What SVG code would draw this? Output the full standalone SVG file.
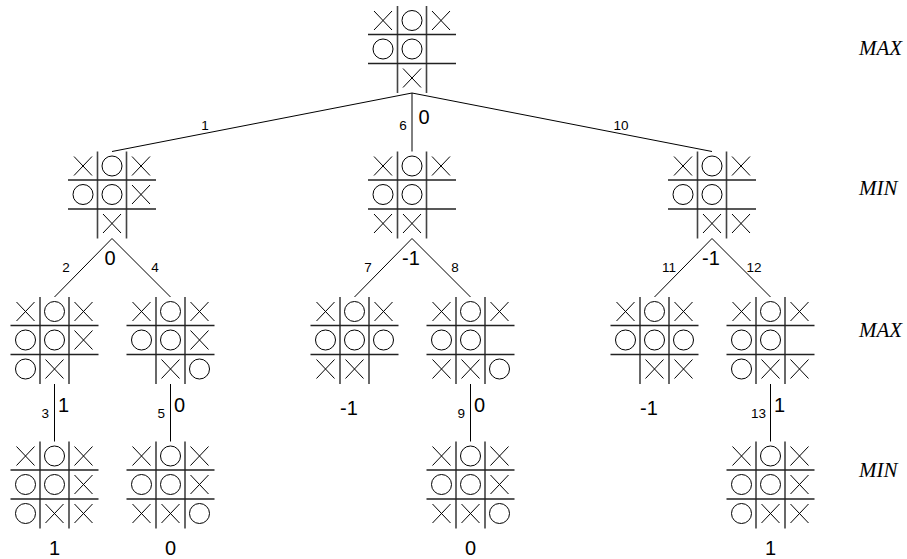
<svg xmlns="http://www.w3.org/2000/svg" xmlns:xlink="http://www.w3.org/1999/xlink" width="907" height="559" viewBox="0 0 907 559">
<style>
.gv{stroke:#444;stroke-width:1.6;fill:none}
.gh{stroke:#222;stroke-width:1.4;fill:none}
.m{stroke:#000;stroke-width:1;fill:none}
.e{stroke:#000;stroke-width:1;fill:none}
.lbl{font-family:"Liberation Sans",Arial,sans-serif;font-size:13.5px;fill:#000}
.val{font-family:"Liberation Sans",Arial,sans-serif;font-size:20px;fill:#000}
.lev{font-family:"Liberation Serif","Times New Roman",serif;font-style:italic;font-size:21px;fill:#000}
</style>
<defs>
<g id="grid">
<path class="gv" d="M-14.5,0V87M14.5,0V87"/>
<path class="gh" d="M-44,28.5H44M-44,57.5H44"/>
</g>
<path id="x" class="m" d="M-9,-9.5L9,9.5M9,-9.5L-9,9.5"/>
<circle id="o" class="m" r="10"/>
</defs>
<rect width="907" height="559" fill="#fff"/>
<g id="connectors">
<path class="e" d="M412,93L112,151.5M412,93L412,151.5M412,93L712,151.5"/>
<path class="e" d="M112,238.5L54.5,297M112,238.5L170.5,297M412,238.5L354.5,297M412,238.5L470.5,297M712,238.5L654.5,297M712,238.5L770.5,297"/>
<path class="e" d="M54.5,384V441.5M170.5,384V441.5M470.5,384V441.5M770.5,384V441.5"/>
<text class="lbl" x="205" y="129.5" text-anchor="middle">1</text>
<text class="lbl" x="403" y="130" text-anchor="middle">6</text>
<text class="val" x="424" y="124" text-anchor="middle">0</text>
<text class="lbl" x="621" y="129.5" text-anchor="middle">10</text>
<text class="lbl" x="66" y="272" text-anchor="middle">2</text>
<text class="val" x="110" y="265" text-anchor="middle">0</text>
<text class="lbl" x="155" y="272" text-anchor="middle">4</text>
<text class="lbl" x="368" y="272" text-anchor="middle">7</text>
<text class="val" x="411" y="265" text-anchor="middle">-1</text>
<text class="lbl" x="455" y="272" text-anchor="middle">8</text>
<text class="lbl" x="669" y="272" text-anchor="middle">11</text>
<text class="val" x="711" y="265" text-anchor="middle">-1</text>
<text class="lbl" x="754" y="272" text-anchor="middle">12</text>
<text class="lbl" x="49" y="418" text-anchor="end">3</text>
<text class="val" x="58" y="412">1</text>
<text class="lbl" x="165" y="418" text-anchor="end">5</text>
<text class="val" x="174" y="412">0</text>
<text class="lbl" x="465" y="418" text-anchor="end">9</text>
<text class="val" x="474" y="412">0</text>
<text class="lbl" x="766" y="418" text-anchor="end">13</text>
<text class="val" x="774" y="412">1</text>
</g>
<g id="root" transform="translate(412,6)"><use xlink:href="#grid"/>
<use xlink:href="#x" x="-29" y="14.5"/><use xlink:href="#o" x="0" y="14.5"/><use xlink:href="#x" x="29" y="14.5"/>
<use xlink:href="#o" x="-29" y="43"/><use xlink:href="#o" x="0" y="43"/>
<use xlink:href="#x" x="0" y="72"/></g>
<g id="n1" transform="translate(112,151.5)"><use xlink:href="#grid"/>
<use xlink:href="#x" x="-29" y="14.5"/><use xlink:href="#o" x="0" y="14.5"/><use xlink:href="#x" x="29" y="14.5"/>
<use xlink:href="#o" x="-29" y="43"/><use xlink:href="#o" x="0" y="43"/><use xlink:href="#x" x="29" y="43"/>
<use xlink:href="#x" x="0" y="72"/></g>
<g id="n6" transform="translate(412,151.5)"><use xlink:href="#grid"/>
<use xlink:href="#x" x="-29" y="14.5"/><use xlink:href="#o" x="0" y="14.5"/><use xlink:href="#x" x="29" y="14.5"/>
<use xlink:href="#o" x="-29" y="43"/><use xlink:href="#o" x="0" y="43"/>
<use xlink:href="#x" x="-29" y="72"/><use xlink:href="#x" x="0" y="72"/></g>
<g id="n10" transform="translate(712,151.5)"><use xlink:href="#grid"/>
<use xlink:href="#x" x="-29" y="14.5"/><use xlink:href="#o" x="0" y="14.5"/><use xlink:href="#x" x="29" y="14.5"/>
<use xlink:href="#o" x="-29" y="43"/><use xlink:href="#o" x="0" y="43"/>
<use xlink:href="#x" x="0" y="72"/><use xlink:href="#x" x="29" y="72"/></g>
<g id="n2" transform="translate(54.5,297)"><use xlink:href="#grid"/>
<use xlink:href="#x" x="-29" y="14.5"/><use xlink:href="#o" x="0" y="14.5"/><use xlink:href="#x" x="29" y="14.5"/>
<use xlink:href="#o" x="-29" y="43"/><use xlink:href="#o" x="0" y="43"/><use xlink:href="#x" x="29" y="43"/>
<use xlink:href="#o" x="-29" y="72"/><use xlink:href="#x" x="0" y="72"/></g>
<g id="n4" transform="translate(170.5,297)"><use xlink:href="#grid"/>
<use xlink:href="#x" x="-29" y="14.5"/><use xlink:href="#o" x="0" y="14.5"/><use xlink:href="#x" x="29" y="14.5"/>
<use xlink:href="#o" x="-29" y="43"/><use xlink:href="#o" x="0" y="43"/><use xlink:href="#x" x="29" y="43"/>
<use xlink:href="#x" x="0" y="72"/><use xlink:href="#o" x="29" y="72"/></g>
<g id="n7" transform="translate(354.5,297)"><use xlink:href="#grid"/>
<use xlink:href="#x" x="-29" y="14.5"/><use xlink:href="#o" x="0" y="14.5"/><use xlink:href="#x" x="29" y="14.5"/>
<use xlink:href="#o" x="-29" y="43"/><use xlink:href="#o" x="0" y="43"/><use xlink:href="#o" x="29" y="43"/>
<use xlink:href="#x" x="-29" y="72"/><use xlink:href="#x" x="0" y="72"/></g>
<g id="n8" transform="translate(470.5,297)"><use xlink:href="#grid"/>
<use xlink:href="#x" x="-29" y="14.5"/><use xlink:href="#o" x="0" y="14.5"/><use xlink:href="#x" x="29" y="14.5"/>
<use xlink:href="#o" x="-29" y="43"/><use xlink:href="#o" x="0" y="43"/>
<use xlink:href="#x" x="-29" y="72"/><use xlink:href="#x" x="0" y="72"/><use xlink:href="#o" x="29" y="72"/></g>
<g id="n11" transform="translate(654.5,297)"><use xlink:href="#grid"/>
<use xlink:href="#x" x="-29" y="14.5"/><use xlink:href="#o" x="0" y="14.5"/><use xlink:href="#x" x="29" y="14.5"/>
<use xlink:href="#o" x="-29" y="43"/><use xlink:href="#o" x="0" y="43"/><use xlink:href="#o" x="29" y="43"/>
<use xlink:href="#x" x="0" y="72"/><use xlink:href="#x" x="29" y="72"/></g>
<g id="n12" transform="translate(770.5,297)"><use xlink:href="#grid"/>
<use xlink:href="#x" x="-29" y="14.5"/><use xlink:href="#o" x="0" y="14.5"/><use xlink:href="#x" x="29" y="14.5"/>
<use xlink:href="#o" x="-29" y="43"/><use xlink:href="#o" x="0" y="43"/>
<use xlink:href="#o" x="-29" y="72"/><use xlink:href="#x" x="0" y="72"/><use xlink:href="#x" x="29" y="72"/></g>
<g id="n3" transform="translate(54.5,441.5)"><use xlink:href="#grid"/>
<use xlink:href="#x" x="-29" y="14.5"/><use xlink:href="#o" x="0" y="14.5"/><use xlink:href="#x" x="29" y="14.5"/>
<use xlink:href="#o" x="-29" y="43"/><use xlink:href="#o" x="0" y="43"/><use xlink:href="#x" x="29" y="43"/>
<use xlink:href="#o" x="-29" y="72"/><use xlink:href="#x" x="0" y="72"/><use xlink:href="#x" x="29" y="72"/></g>
<g id="n5" transform="translate(170.5,441.5)"><use xlink:href="#grid"/>
<use xlink:href="#x" x="-29" y="14.5"/><use xlink:href="#o" x="0" y="14.5"/><use xlink:href="#x" x="29" y="14.5"/>
<use xlink:href="#o" x="-29" y="43"/><use xlink:href="#o" x="0" y="43"/><use xlink:href="#x" x="29" y="43"/>
<use xlink:href="#x" x="-29" y="72"/><use xlink:href="#x" x="0" y="72"/><use xlink:href="#o" x="29" y="72"/></g>
<g id="n9" transform="translate(470.5,441.5)"><use xlink:href="#grid"/>
<use xlink:href="#x" x="-29" y="14.5"/><use xlink:href="#o" x="0" y="14.5"/><use xlink:href="#x" x="29" y="14.5"/>
<use xlink:href="#o" x="-29" y="43"/><use xlink:href="#o" x="0" y="43"/><use xlink:href="#x" x="29" y="43"/>
<use xlink:href="#x" x="-29" y="72"/><use xlink:href="#x" x="0" y="72"/><use xlink:href="#o" x="29" y="72"/></g>
<g id="n13" transform="translate(770.5,441.5)"><use xlink:href="#grid"/>
<use xlink:href="#x" x="-29" y="14.5"/><use xlink:href="#o" x="0" y="14.5"/><use xlink:href="#x" x="29" y="14.5"/>
<use xlink:href="#o" x="-29" y="43"/><use xlink:href="#o" x="0" y="43"/><use xlink:href="#x" x="29" y="43"/>
<use xlink:href="#o" x="-29" y="72"/><use xlink:href="#x" x="0" y="72"/><use xlink:href="#x" x="29" y="72"/></g>
<g id="values">
<text class="val" x="349" y="415" text-anchor="middle">-1</text>
<text class="val" x="649" y="415" text-anchor="middle">-1</text>
<text class="val" x="54.5" y="555" text-anchor="middle">1</text>
<text class="val" x="170.5" y="555" text-anchor="middle">0</text>
<text class="val" x="470.5" y="555" text-anchor="middle">0</text>
<text class="val" x="770.5" y="555" text-anchor="middle">1</text>
</g>
<g id="levels">
<text class="lev" x="859" y="55">MAX</text>
<text class="lev" x="859" y="195">MIN</text>
<text class="lev" x="859" y="337">MAX</text>
<text class="lev" x="859" y="477">MIN</text>
</g>
</svg>
